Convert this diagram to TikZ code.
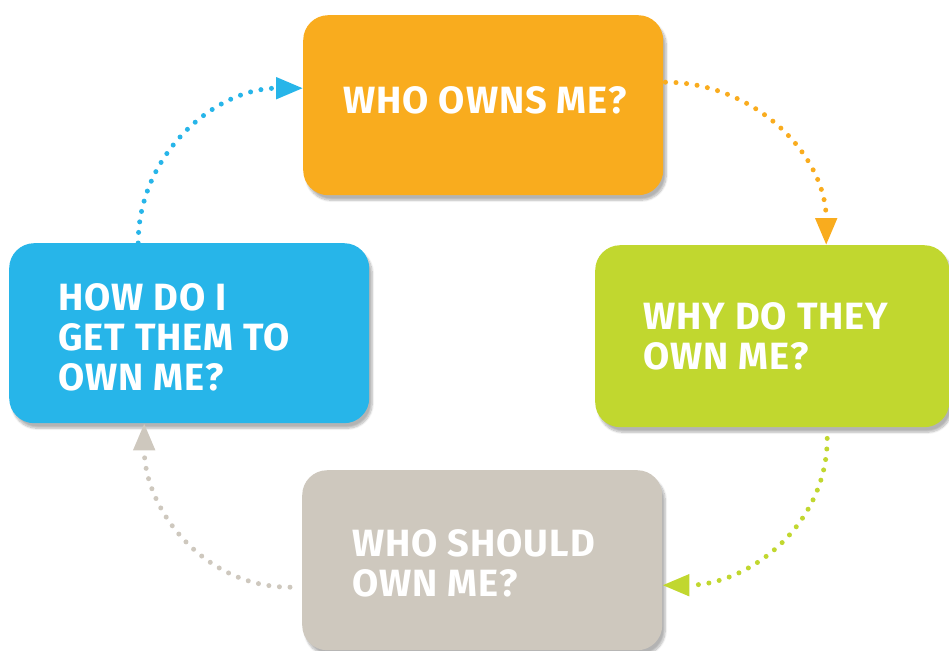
\documentclass[tikz,border=0pt]{standalone}
\usepackage{fontspec}
\setmainfont{Fira Sans}
\newfontfamily\askfont[LetterSpace=2.5]{Fira Sans}
\usetikzlibrary{arrows.meta,shadows.blur}

\definecolor{ownorange}{HTML}{F9AC1E}
\definecolor{owngreen}{HTML}{C1D72F}
\definecolor{owngrey}{HTML}{CEC8BE}
\definecolor{ownblue}{HTML}{27B5E9}

\tikzset{
  askbox/.style={rectangle, rounded corners=25pt, anchor=north west,
                 minimum width=360pt, minimum height=180pt,
                 blur shadow={shadow xshift=3pt, shadow yshift=-5pt,
                              shadow blur steps=10, shadow opacity=30}},
  asktext/.style={anchor=west, align=left, text=white, inner sep=0pt,
                  font=\askfont\fontsize{38}{40}\selectfont\bfseries},
  dotline/.style={line width=5pt, line cap=round,
                  dash pattern=on 0pt off 10.6pt,
                  -{Triangle[length=27pt,width=21pt]}}
}

\begin{document}
\begin{tikzpicture}[x=1pt,y=-1pt]
\useasboundingbox (0,0) rectangle (949,650);

% top
\node[askbox, fill=ownorange] (owns) at (303,15) {};
\node[asktext] (ownsT) at ([xshift=40pt,yshift=5pt]owns.west)
    {WHO OWNS ME?};

% right
\node[askbox, fill=owngreen, minimum width=354pt, minimum height=182pt]
    (why) at (595,245) {};
\node[asktext] (whyT) at ([xshift=48pt]why.west)
    {WHY DO THEY\\OWN ME?};

% bottom
\node[askbox, fill=owngrey] (should) at (302,470) {};
\node[asktext] (shouldT) at ([xshift=50pt,yshift=-3pt]should.west)
    {WHO SHOULD\\OWN ME?};

% left
\node[askbox, fill=ownblue] (how) at (9,243) {};
\node[asktext] (howT) at ([xshift=49pt,yshift=-4pt]how.west)
    {HOW DO I\\GET THEM TO\\OWN ME?};

% cycle
\draw[dotline, ownblue]
    ([xshift=-51pt]how.north) to[out=90, in=180] ([yshift=17pt]owns.west);
\draw[dotline, ownorange]
    ([xshift=2pt,yshift=23pt]owns.east) to[out=0, in=90] ([xshift=54pt]why.north);
\draw[dotline, owngreen]
    ([xshift=55pt,yshift=-11pt]why.south) to[out=-90, in=0] ([yshift=-25pt]should.east);
\draw[dotline, owngrey]
    ([xshift=-12pt,yshift=-27pt]should.west) to[out=180, in=-90] ([xshift=-45pt]how.south);
\end{tikzpicture}
\end{document}
